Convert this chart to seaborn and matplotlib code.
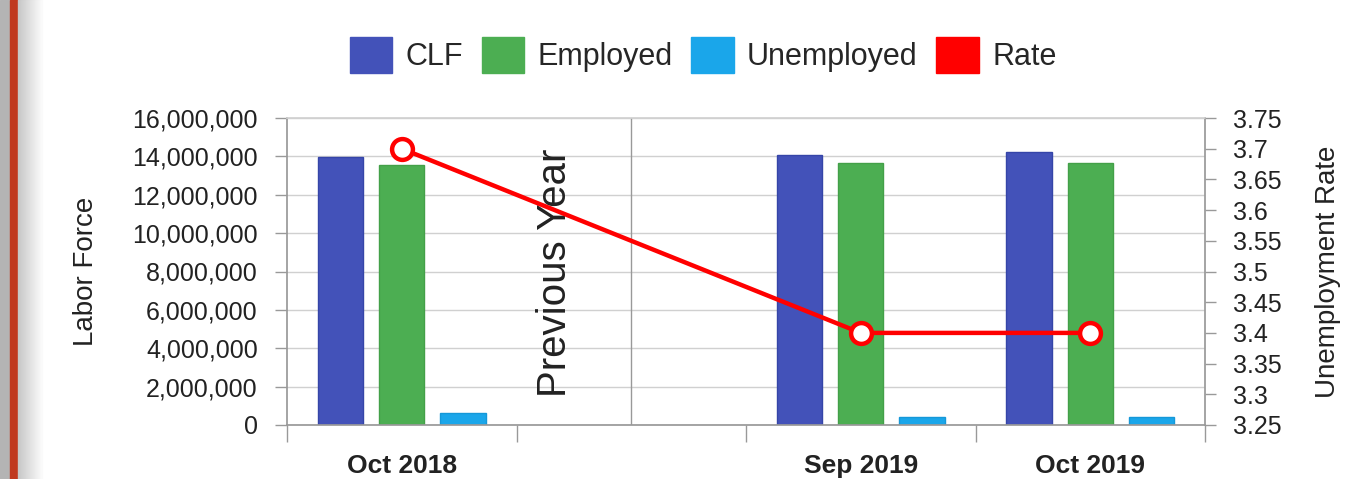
import numpy as np
import pandas as pd
import seaborn as sns
import matplotlib.pyplot as plt
from matplotlib.patches import Patch, Rectangle
from matplotlib.ticker import FuncFormatter, MultipleLocator
import matplotlib.transforms as mtransforms

# data
months = ["Oct 2018", "Sep 2019", "Oct 2019"]
slots = ["Oct 2018", "", "Sep 2019", "Oct 2019"]   # empty slot = "Previous Year" gap
clf = [13960000, 14080000, 14220000]
employed = [13530000, 13670000, 13670000]
unemployed = [600000, 440000, 440000]
rate = [3.7, 3.4, 3.4]

series = ["CLF", "Employed", "Unemployed"]
colors = ["#4352b9", "#4cae52", "#1aa6ea"]
edges = ["#3545a8", "#43a048", "#1598d8"]
rate_color = "#ff0000"

df = pd.DataFrame({
    "month": months * 3,
    "series": np.repeat(series, len(months)),
    "value": clf + employed + unemployed,
})

sns.set_theme(style="white")
plt.rcParams["font.family"] = ["Liberation Sans", "DejaVu Sans"]

W, H = 1349, 479
fig = plt.figure(figsize=(W / 100, H / 100), dpi=100)
ax = fig.add_axes([287 / W, 1 - 425 / H, 918 / W, 307 / H])

sns.barplot(data=df, x="month", y="value", hue="series", order=slots,
            hue_order=series, palette=colors, saturation=1, width=0.8,
            gap=0.26, legend=False, ax=ax)
for cont, ec in zip(ax.containers, edges):
    for bar in cont:
        bar.set_edgecolor(ec)
        bar.set_linewidth(1)

ax.set_xlim(-0.5, 3.5)
ax.set_ylim(0, 16000000)
ax.yaxis.set_major_locator(MultipleLocator(2000000))
ax.yaxis.set_major_formatter(FuncFormatter(lambda v, p: f"{v:,.0f}"))
ax.yaxis.grid(True, color="#d0d0d0", lw=1)
ax.set_axisbelow(True)

ax.set_xticks([slots.index(m) for m in months])
ax.set_xticklabels(months, fontweight="bold")
ax.set_xticks(np.arange(-0.5, 4, 1), minor=True)
ax.tick_params(axis="x", which="major", bottom=True, length=0, pad=21,
               labelsize=19, labelcolor="#222")
ax.tick_params(axis="x", which="minor", bottom=True, length=12, width=1,
               color="#999", direction="out")
ax.tick_params(axis="y", left=True, length=9, width=1, color="#999", pad=12,
               labelsize=18, labelcolor="#222")
ax.set_xlabel("")
ax.set_ylabel("Labor Force", fontsize=20, color="#222")
ax.yaxis.set_label_coords(-0.205, 0.5)

for s in ["left", "bottom", "right", "top"]:
    ax.spines[s].set_color("#999")
ax.spines["top"].set_color("#d0d0d0")

# separator + annotation in the empty slot
ax.axvline(1.0, color="#999", lw=1)
trans = mtransforms.blended_transform_factory(ax.transData, ax.transAxes)
ax.text(0.668, 0.495, "Previous Year", rotation=90, ha="center", va="center",
        fontsize=29, color="#222", transform=trans)

# rate line on secondary axis
ax2 = ax.twinx()
sns.lineplot(x=[slots.index(m) for m in months], y=rate, ax=ax2, color=rate_color,
             lw=3.2, marker="o", markersize=15, markerfacecolor="white",
             markeredgecolor=rate_color, markeredgewidth=3.2, zorder=5)
ax2.set_xlim(-0.5, 3.5)
ax2.set_ylim(3.25, 3.75)
ax2.yaxis.set_major_locator(MultipleLocator(0.05))
ax2.yaxis.set_major_formatter(FuncFormatter(lambda v, p: f"{v:g}"))
ax2.tick_params(axis="y", right=True, length=8, width=1, color="#999", pad=12,
                labelsize=18, labelcolor="#222")
ax2.set_ylabel("Unemployment Rate", fontsize=20, color="#222", rotation=90)
ax2.yaxis.set_label_coords(1.12, 0.5)
ax2.grid(False)
for s in ["left", "bottom", "right", "top"]:
    ax2.spines[s].set_visible(False)

# legend
handles = [Patch(facecolor=c, edgecolor=c, label=s) for s, c in zip(series, colors)]
handles.append(Patch(facecolor=rate_color, edgecolor=rate_color, label="Rate"))
fig.legend(handles=handles, loc="center", bbox_to_anchor=(703 / W, 1 - 55 / H),
           ncol=4, frameon=False, fontsize=22, handlelength=1.4, handleheight=1.4,
           handletextpad=0.42, columnspacing=0.62)

# left window border decoration
fig.patches.append(Rectangle((0, 0), 10 / W, 1, transform=fig.transFigure,
                             color="#b4b4b4", zorder=0))
fig.patches.append(Rectangle((10 / W, 0), 7 / W, 1, transform=fig.transFigure,
                             color="#c0391f", zorder=0))
for i in range(24):
    g = 0.78 + 0.2 * i / 23
    fig.patches.append(Rectangle(((18 + i) / W, 0), 1 / W, 1, transform=fig.transFigure,
                                 color=(g, g, g), zorder=0))

fig.savefig("out.png", dpi=100)
